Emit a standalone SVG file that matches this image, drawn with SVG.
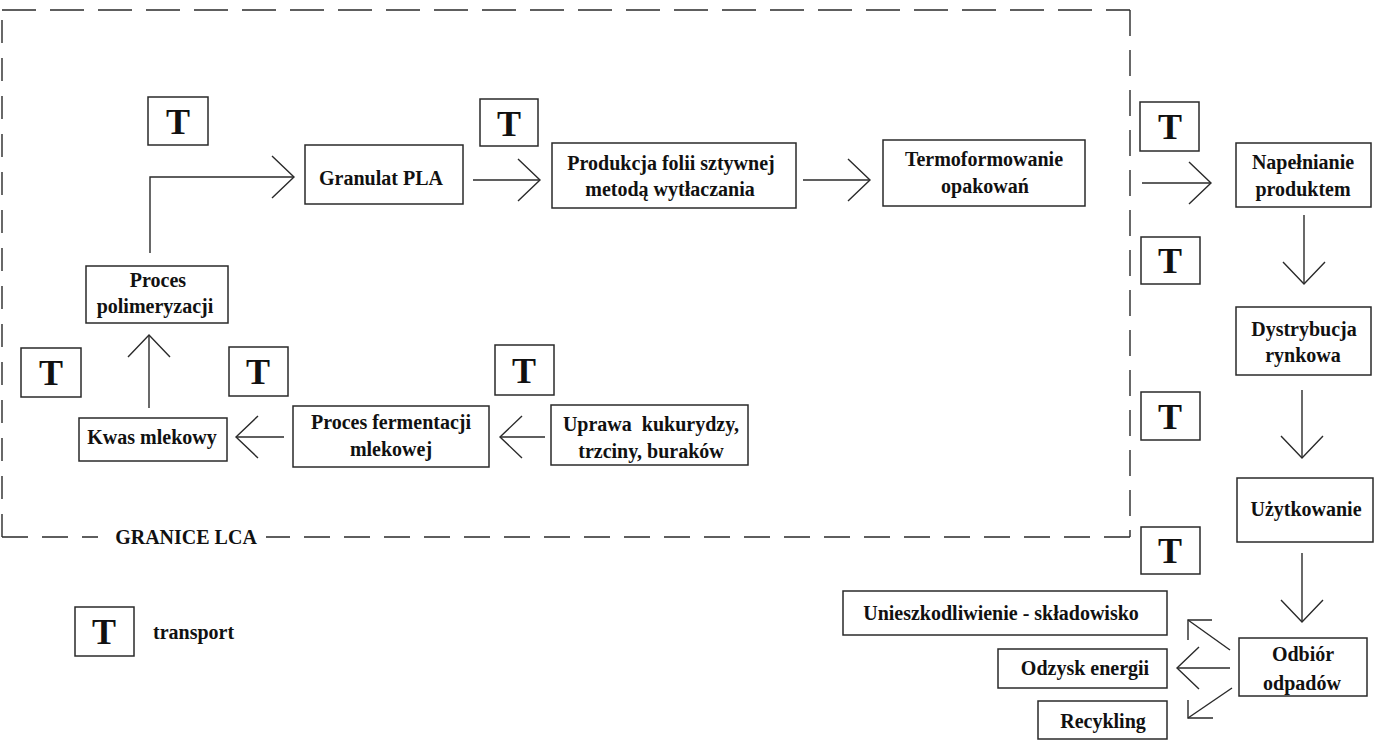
<svg xmlns="http://www.w3.org/2000/svg" width="1381" height="741" viewBox="0 0 1381 741">
  <defs>
    <!-- open V arrowhead, arms ~30px -->
    <marker id="vhead" markerUnits="userSpaceOnUse" markerWidth="60" markerHeight="60" viewBox="-30 -30 60 60" refX="0" refY="0" orient="auto" overflow="visible">
      <path d="M-22,-21 L0,0 L-22,21" fill="none" stroke="#2a2a2a" stroke-width="1.4"/>
    </marker>
  </defs>
  <style>
    .box { fill: #ffffff; stroke: #2a2a2a; stroke-width: 1.5; }
    .lbl { font-family: "Liberation Serif", "Times New Roman", serif; font-weight: bold; font-size: 20px; fill: #111; text-anchor: middle; }
    .tl { font-family: "Liberation Serif", "Times New Roman", serif; font-weight: bold; font-size: 36px; fill: #111; text-anchor: middle; }
    .edge { fill: none; stroke: #2a2a2a; stroke-width: 1.4; }
    .bound { fill: none; stroke: #2a2a2a; stroke-width: 1.4; }
  </style>
  <rect width="1381" height="741" fill="#ffffff"/>

  <!-- LCA system boundary -->
  <g id="lca-boundary">
    <path class="bound" d="M2,537 L2,10" stroke-dasharray="23 15"/>
    <path class="bound" d="M2,10 L1130,10" stroke-dasharray="34 14"/>
    <path class="bound" d="M1130,10 L1130,537" stroke-dasharray="26 14"/>
    <path class="bound" d="M2,537 L98,537" stroke-dasharray="26 14"/>
    <path class="bound" d="M1130,537 L266,537" stroke-dasharray="26 14"/>
    <text class="lbl" x="186" y="544">GRANICE LCA</text>
  </g>

  <!-- transport markers -->
  <g id="t1"><rect class="box" x="148" y="97" width="60" height="48"/><text class="tl" x="178" y="134">T</text></g>
  <g id="t2"><rect class="box" x="480" y="99" width="58" height="47"/><text class="tl" x="509" y="136">T</text></g>
  <g id="t3"><rect class="box" x="1140" y="102" width="59" height="49"/><text class="tl" x="1170" y="139">T</text></g>
  <g id="t4"><rect class="box" x="1141" y="237" width="59" height="47"/><text class="tl" x="1170" y="273">T</text></g>
  <g id="t5"><rect class="box" x="1141" y="392" width="59" height="48"/><text class="tl" x="1170" y="429">T</text></g>
  <g id="t6"><rect class="box" x="1141" y="527" width="59" height="47"/><text class="tl" x="1170" y="563">T</text></g>
  <g id="t7"><rect class="box" x="21" y="348" width="60" height="49"/><text class="tl" x="51" y="385">T</text></g>
  <g id="t8"><rect class="box" x="229" y="347" width="59" height="49"/><text class="tl" x="258" y="384">T</text></g>
  <g id="t9"><rect class="box" x="495" y="345" width="59" height="50"/><text class="tl" x="524" y="383">T</text></g>

  <!-- process steps -->
  <g id="granulat">
    <rect class="box" x="305" y="145" width="158" height="59"/>
    <text class="lbl" x="381" y="185">Granulat PLA</text>
  </g>
  <g id="produkcja-folii">
    <rect class="box" x="552" y="143" width="244" height="65"/>
    <text class="lbl" x="671" y="170" font-size="19">Produkcja folii sztywnej</text>
    <text class="lbl" x="670" y="196" font-size="19">metodą wytłaczania</text>
  </g>
  <g id="termoformowanie">
    <rect class="box" x="883" y="140" width="202" height="66"/>
    <text class="lbl" x="984" y="166" font-size="21.5">Termoformowanie</text>
    <text class="lbl" x="985" y="193">opakowań</text>
  </g>
  <g id="napelnianie">
    <rect class="box" x="1236" y="143" width="135" height="64"/>
    <text class="lbl" x="1303" y="169">Napełnianie</text>
    <text class="lbl" x="1303" y="196">produktem</text>
  </g>
  <g id="dystrybucja">
    <rect class="box" x="1236" y="307" width="135" height="68"/>
    <text class="lbl" x="1304" y="336">Dystrybucja</text>
    <text class="lbl" x="1303" y="362">rynkowa</text>
  </g>
  <g id="uzytkowanie">
    <rect class="box" x="1237" y="478" width="136" height="64"/>
    <text class="lbl" x="1306" y="516">Użytkowanie</text>
  </g>
  <g id="odbior">
    <rect class="box" x="1239" y="638" width="128" height="58"/>
    <text class="lbl" x="1303" y="661">Odbiór</text>
    <text class="lbl" x="1302" y="690">odpadów</text>
  </g>
  <g id="unieszkodliwienie">
    <rect class="box" x="843" y="591" width="324" height="44"/>
    <text class="lbl" x="1001" y="620" font-size="21.5">Unieszkodliwienie - składowisko</text>
  </g>
  <g id="odzysk">
    <rect class="box" x="998" y="649" width="169" height="39"/>
    <text class="lbl" x="1085" y="675">Odzysk energii</text>
  </g>
  <g id="recykling">
    <rect class="box" x="1038" y="701" width="129" height="38"/>
    <text class="lbl" x="1103" y="728">Recykling</text>
  </g>
  <g id="polimeryzacja">
    <rect class="box" x="86" y="266" width="142" height="57"/>
    <text class="lbl" x="158" y="287">Proces</text>
    <text class="lbl" x="155" y="313">polimeryzacji</text>
  </g>
  <g id="kwas">
    <rect class="box" x="79" y="418" width="148" height="43"/>
    <text class="lbl" x="152" y="444">Kwas mlekowy</text>
  </g>
  <g id="fermentacja">
    <rect class="box" x="293" y="406" width="196" height="61"/>
    <text class="lbl" x="391" y="429">Proces fermentacji</text>
    <text class="lbl" x="391" y="456">mlekowej</text>
  </g>
  <g id="uprawa">
    <rect class="box" x="551" y="405" width="197" height="60"/>
    <text class="lbl" x="651" y="431" xml:space="preserve">Uprawa  kukurydzy,</text>
    <text class="lbl" x="651" y="458">trzciny, buraków</text>
  </g>

  <!-- legend -->
  <g id="legend">
    <rect class="box" x="75" y="607" width="59" height="49"/>
    <text class="tl" x="104" y="644">T</text>
    <text class="lbl" x="153" y="639" style="text-anchor:start">transport</text>
  </g>

  <!-- flows -->
  <g id="connectors">
    <path class="edge" d="M150,253 L150,177 L294,177" marker-end="url(#vhead)"/>
    <path class="edge" d="M473,180 L540,180" marker-end="url(#vhead)"/>
    <path class="edge" d="M803,180 L870,180" marker-end="url(#vhead)"/>
    <path class="edge" d="M1142,183 L1211,183" marker-end="url(#vhead)"/>
    <path class="edge" d="M1304,215 L1304,284" marker-end="url(#vhead)"/>
    <path class="edge" d="M1302,390 L1302,458" marker-end="url(#vhead)"/>
    <path class="edge" d="M1302,553 L1302,622" marker-end="url(#vhead)"/>
    <path class="edge" d="M545,437 L500,437" marker-end="url(#vhead)"/>
    <path class="edge" d="M284,437 L236,437" marker-end="url(#vhead)"/>
    <path class="edge" d="M149,408 L149,335" marker-end="url(#vhead)"/>
    <path class="edge" d="M1230,668 L1177,668" marker-end="url(#vhead)"/>
    <!-- diagonal outflows with square-corner heads -->
    <path class="edge" d="M1230,650 L1188,620"/>
    <path class="edge" d="M1212,620 L1188,620 L1188,640"/>
    <path class="edge" d="M1232,688 L1188,718"/>
    <path class="edge" d="M1188,700 L1188,718 L1213,718"/>
  </g>
</svg>
